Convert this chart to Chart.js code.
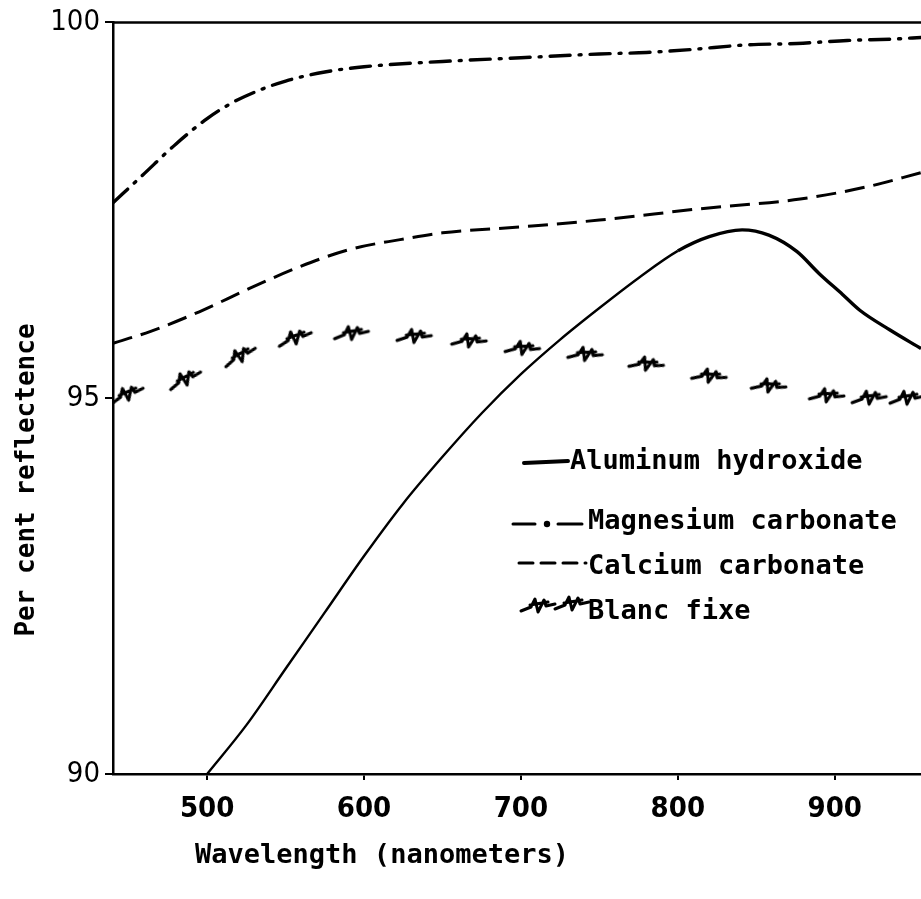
<!DOCTYPE html>
<html>
<head>
<meta charset="utf-8">
<title>Per cent reflectence vs wavelength</title>
<script src="https://cdn.jsdelivr.net/npm/chart.js@4.4.1/dist/chart.umd.min.js"></script>
<style>
  html, body { margin: 0; padding: 0; background: #fff; overflow: hidden; width: 921px; height: 899px; }
  canvas { display: block; }
</style>
</head>
<body>
<!-- the scan is cut off on the right, so the canvas runs a little past the window -->
<canvas id="chart" width="932" height="899"></canvas>
<script>
'use strict';

// values (wavelength in nm, reflectance in per cent)
const alumX = [500, 525, 550, 575, 600, 625, 650, 675, 700, 725, 750, 775, 800, 820, 841, 858, 876, 890, 905, 916, 935, 955];
const alumY = [90, 90.65, 91.4, 92.15, 92.9, 93.6, 94.22, 94.8, 95.32, 95.78, 96.2, 96.6, 96.96, 97.15, 97.24, 97.17, 96.95, 96.66, 96.38, 96.17, 95.91, 95.66];

const magX = [440, 459, 480, 500, 515, 530, 550, 575, 600, 650, 700, 750, 780, 809, 843, 876, 908, 939, 955];
const magY = [97.6, 97.97, 98.38, 98.72, 98.92, 99.07, 99.22, 99.34, 99.41, 99.48, 99.53, 99.58, 99.6, 99.64, 99.7, 99.72, 99.76, 99.78, 99.8];

const calX = [440, 464, 495, 527, 559, 591, 623, 650, 700, 750, 814, 878, 920, 955];
const calY = [95.73, 95.89, 96.15, 96.46, 96.75, 96.98, 97.11, 97.2, 97.28, 97.37, 97.52, 97.65, 97.81, 98.0];

const blancX = [449, 486, 521, 556, 592, 632, 667, 701, 741, 780, 820, 858, 895, 922, 946];
const blancY = [95.05, 95.25, 95.56, 95.8, 95.86, 95.82, 95.76, 95.66, 95.58, 95.45, 95.29, 95.16, 95.03, 95.0, 95.0];

const seriesNames = ['Aluminum hydroxide', 'Magnesium carbonate', 'Calcium carbonate', 'Blanc fixe'];
const xTicks = [500, 600, 700, 800, 900];
const yTicks = [90, 95, 100];

const INK = '#000';
const MONO = '"DejaVu Sans Mono", "Liberation Mono", monospace';
const NARROW = '"Liberation Sans Narrow", "DejaVu Sans Condensed", sans-serif';

const toPoints = (xs, ys) => xs.map((x, i) => ({ x: x, y: ys[i] }));

// the little scribbled marker used for blanc fixe
const zigzag = (function () {
    const c = document.createElement('canvas');
    c.width = 38;
    c.height = 20;
    const g = c.getContext('2d');
    g.strokeStyle = INK;
    g.lineWidth = 3;
    g.lineCap = 'round';
    g.lineJoin = 'round';
    g.beginPath();
    g.moveTo(2, 15);
    g.lineTo(12, 11);
    g.lineTo(16, 3);
    g.lineTo(19, 16);
    g.lineTo(25, 4);
    g.lineTo(27, 10);
    g.lineTo(36, 8);
    g.moveTo(11, 9);
    g.lineTo(29, 6);
    g.stroke();
    return c;
})();

// tilt each marker along the run of the curve
const slopeAngle = function (ctx) {
    const chart = ctx.chart;
    const xs = chart.scales.x, ys = chart.scales.y;
    const d = ctx.dataset.data;
    const i = ctx.dataIndex;
    if (!xs || !ys || !d || i === undefined) return 0;
    const a = d[Math.max(i - 1, 0)], b = d[Math.min(i + 1, d.length - 1)];
    const dx = xs.getPixelForValue(b.x) - xs.getPixelForValue(a.x);
    const dy = ys.getPixelForValue(b.y) - ys.getPixelForValue(a.y);
    return Math.atan2(dy, dx) * 180 / Math.PI;
};

const frameAndLabels = {
    id: 'frameAndLabels',
    afterDraw(chart) {
        const ctx = chart.ctx;
        const area = chart.chartArea;
        ctx.save();

        // top border of the frame
        ctx.strokeStyle = INK;
        ctx.lineWidth = 2.5;
        ctx.beginPath();
        ctx.moveTo(area.left, area.top);
        ctx.lineTo(chart.width, area.top);
        ctx.stroke();

        ctx.fillStyle = INK;
        ctx.textBaseline = 'middle';

        // axis titles
        ctx.textAlign = 'center';
        ctx.font = 'bold 27px ' + MONO;
        ctx.fillText('Wavelength (nanometers)', 382, 856);
        ctx.save();
        ctx.translate(27, 480);
        ctx.rotate(-Math.PI / 2);
        ctx.font = 'bold 26px ' + MONO;
        ctx.fillText('Per cent reflectence', 0, 0);
        ctx.restore();

        // legend, inside the plot
        ctx.textAlign = 'left';
        ctx.font = 'bold 27px ' + MONO;
        const rows = [462, 522, 567, 612];
        const textX = [570, 588, 588, 588];
        seriesNames.forEach((name, i) => ctx.fillText(name, textX[i], rows[i]));

        ctx.lineCap = 'round';
        // aluminum hydroxide: heavy solid stroke
        ctx.lineWidth = 4;
        ctx.beginPath();
        ctx.moveTo(524, rows[0] + 1);
        ctx.lineTo(568, rows[0] - 1);
        ctx.stroke();

        // magnesium carbonate: dash dot dash
        ctx.lineWidth = 3;
        ctx.beginPath();
        ctx.moveTo(513, rows[1] + 2);
        ctx.lineTo(535, rows[1] + 2);
        ctx.moveTo(558, rows[1] + 2);
        ctx.lineTo(582, rows[1] + 2);
        ctx.stroke();
        ctx.beginPath();
        ctx.arc(547, rows[1] + 2, 3.2, 0, Math.PI * 2);
        ctx.fill();

        // calcium carbonate: dashes
        ctx.beginPath();
        ctx.setLineDash([14, 8]);
        ctx.moveTo(519, rows[2] - 4);
        ctx.lineTo(586, rows[2] - 4);
        ctx.stroke();
        ctx.setLineDash([]);

        // blanc fixe: two markers
        ctx.drawImage(zigzag, 519, rows[3] - 16);
        ctx.drawImage(zigzag, 553, rows[3] - 18);

        ctx.restore();
    }
};

new Chart(document.getElementById('chart'), {
    type: 'line',
    data: {
        datasets: [
            {
                label: seriesNames[0],
                data: toPoints(alumX, alumY),
                borderColor: INK,
                borderWidth: 2.4,
                pointRadius: 0,
                cubicInterpolationMode: 'monotone',
                segment: {
                    borderWidth: ctx => (ctx.p0.parsed.x >= 800 ? 3.4 : 2.4)
                }
            },
            {
                label: seriesNames[1],
                data: toPoints(magX, magY),
                borderColor: INK,
                borderWidth: 3.4,
                borderCapStyle: 'round',
                borderDash: [20, 9, 2, 9],
                pointRadius: 0,
                cubicInterpolationMode: 'monotone'
            },
            {
                label: seriesNames[2],
                data: toPoints(calX, calY),
                borderColor: INK,
                borderWidth: 3,
                borderDash: [20, 9],
                pointRadius: 0,
                cubicInterpolationMode: 'monotone'
            },
            {
                label: seriesNames[3],
                data: toPoints(blancX, blancY),
                showLine: false,
                pointStyle: zigzag,
                pointRadius: 10,
                pointRotation: slopeAngle
            }
        ]
    },
    options: {
        responsive: false,
        animation: false,
        events: [],
        layout: { padding: { top: 20, left: 0, right: 0, bottom: 0 } },
        plugins: {
            legend: { display: false },
            tooltip: { enabled: false }
        },
        scales: {
            x: {
                type: 'linear',
                min: 440,
                max: 955,
                afterBuildTicks: scale => { scale.ticks = xTicks.map(v => ({ value: v })); },
                afterFit: scale => { scale.height = 125; },
                border: { display: true, color: INK, width: 2.5 },
                grid: { display: true, drawOnChartArea: false, color: INK, lineWidth: 2, tickLength: 6 },
                ticks: {
                    color: INK,
                    padding: 12,
                    maxRotation: 0,
                    font: { family: NARROW, size: 29, weight: 'bold' }
                }
            },
            y: {
                min: 90,
                max: 100,
                afterBuildTicks: scale => { scale.ticks = yTicks.map(v => ({ value: v })); },
                afterFit: scale => { scale.width = 113; },
                border: { display: true, color: INK, width: 2.5 },
                grid: { display: true, drawOnChartArea: false, color: INK, lineWidth: 2, tickLength: 8 },
                ticks: {
                    color: INK,
                    padding: 5,
                    font: { family: NARROW, size: 29 }
                }
            }
        }
    },
    plugins: [frameAndLabels]
});
</script>
</body>
</html>
